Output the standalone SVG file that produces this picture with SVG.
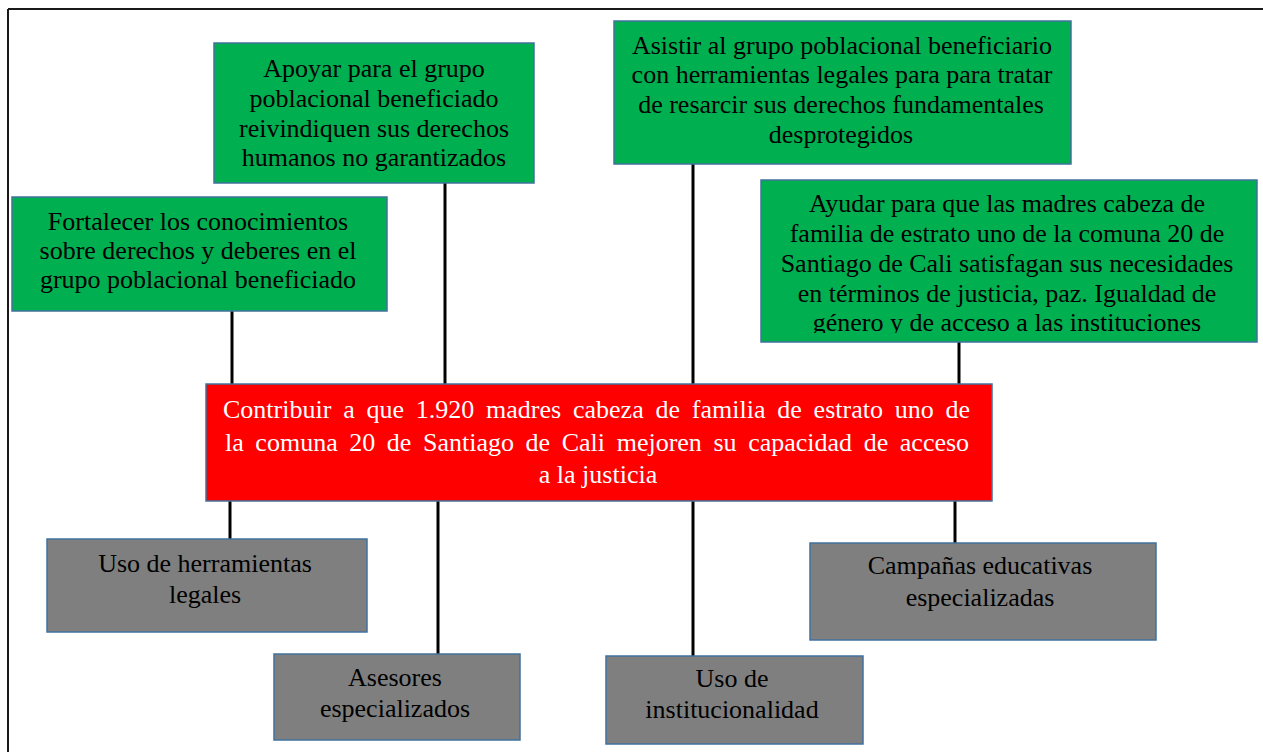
<svg xmlns="http://www.w3.org/2000/svg" width="1263" height="752" viewBox="0 0 1263 752">
  <style>
    .box { stroke: #41719C; stroke-width: 1.5; }
    .green { fill: #00B050; }
    .gray { fill: #7F7F7F; }
    .red { fill: #FF0000; }
    text { font-family: "Liberation Serif", "Times New Roman", serif; font-size: 26px; fill: #000; text-anchor: middle; }
    text.white { fill: #FFFFFF; }
    .conn line { stroke: #000; stroke-width: 3; }
  </style>
  <defs>
    <clipPath id="clipD"><rect x="761" y="180" width="496" height="153"/></clipPath>
  </defs>
  <rect width="1263" height="752" fill="#FFFFFF"/>
  <g id="frame">
    <line x1="8" y1="9" x2="1263" y2="9" stroke="#1a1a1a" stroke-width="2"/>
    <line x1="8" y1="9" x2="8" y2="752" stroke="#1a1a1a" stroke-width="2"/>
  </g>
  <g class="conn" id="connectors">
    <line x1="232" y1="311" x2="232" y2="384"/>
    <line x1="445" y1="183" x2="445" y2="384"/>
    <line x1="693" y1="164" x2="693" y2="384"/>
    <line x1="959" y1="342" x2="959" y2="384"/>
    <line x1="230" y1="501" x2="230" y2="539"/>
    <line x1="438" y1="501" x2="438" y2="654"/>
    <line x1="693" y1="501" x2="693" y2="656"/>
    <line x1="955" y1="501" x2="955" y2="543"/>
  </g>
  <g id="nodeA">
    <rect class="box green" x="214" y="43" width="320" height="140"/>
    <text x="374" y="77">Apoyar para el grupo</text>
    <text x="374" y="107">poblacional beneficiado</text>
    <text x="374" y="137">reivindiquen sus derechos</text>
    <text x="374" y="166">humanos no garantizados</text>
  </g>
  <g id="nodeB">
    <rect class="box green" x="12" y="197" width="375" height="114"/>
    <text x="198" y="230">Fortalecer los conocimientos</text>
    <text x="198" y="259">sobre derechos y deberes en el</text>
    <text x="198" y="288">grupo poblacional beneficiado</text>
  </g>
  <g id="nodeC">
    <rect class="box green" x="614" y="21" width="457" height="143"/>
    <text x="842" y="54">Asistir al grupo poblacional beneficiario</text>
    <text x="842" y="83">con herramientas legales para para tratar</text>
    <text x="841" y="113">de resarcir sus derechos fundamentales</text>
    <text x="841" y="143">desprotegidos</text>
  </g>
  <g id="nodeD">
    <rect class="box green" x="761" y="180" width="496" height="162"/>
    <g clip-path="url(#clipD)">
      <text x="1007" y="212">Ayudar para que las madres cabeza de</text>
      <text x="1007" y="242">familia de estrato uno de la comuna 20 de</text>
      <text x="1007" y="272">Santiago de Cali satisfagan sus necesidades</text>
      <text x="1007" y="302">en términos de justicia, paz. Igualdad de</text>
      <text x="1007" y="331">género y de acceso a las instituciones</text>
    </g>
  </g>
  <g id="nodeMain">
    <rect class="box red" x="206" y="384" width="786" height="117"/>
    <text class="white" x="223" y="418" style="text-anchor:start" word-spacing="5.3">Contribuir a que 1.920 madres cabeza de familia de estrato uno de</text>
    <text class="white" x="225" y="451" style="text-anchor:start" word-spacing="5.1">la comuna 20 de Santiago de Cali mejoren su capacidad de acceso</text>
    <text class="white" x="598" y="483">a la justicia</text>
  </g>
  <g id="nodeE">
    <rect class="box gray" x="47" y="539" width="320" height="93"/>
    <text x="205" y="572">Uso de herramientas</text>
    <text x="205" y="603">legales</text>
  </g>
  <g id="nodeF">
    <rect class="box gray" x="274" y="654" width="246" height="86"/>
    <text x="395" y="686">Asesores</text>
    <text x="395" y="717">especializados</text>
  </g>
  <g id="nodeG">
    <rect class="box gray" x="606" y="656" width="257" height="88"/>
    <text x="732" y="687">Uso de</text>
    <text x="732" y="718">institucionalidad</text>
  </g>
  <g id="nodeH">
    <rect class="box gray" x="810" y="543" width="346" height="97"/>
    <text x="980" y="574">Campañas educativas</text>
    <text x="980" y="606">especializadas</text>
  </g>
</svg>
